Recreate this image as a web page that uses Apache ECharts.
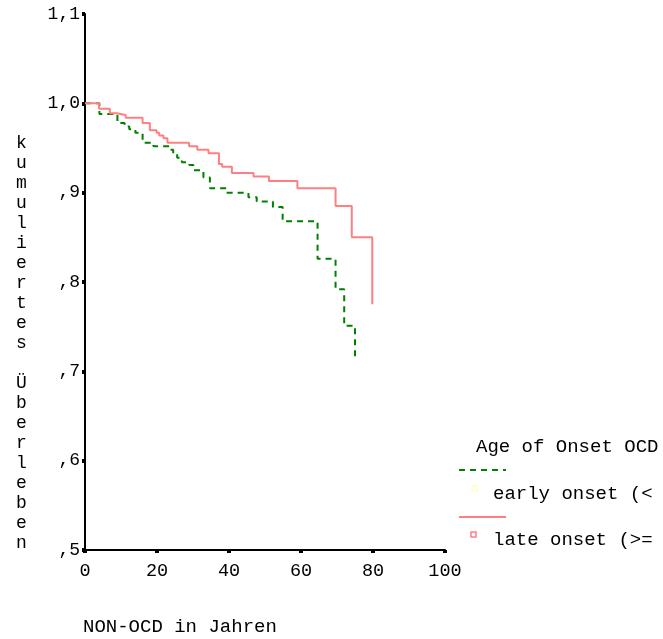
<!DOCTYPE html>
<html>
<head>
<meta charset="utf-8">
<script src="https://cdn.jsdelivr.net/npm/echarts@6/dist/echarts.min.js"></script>
<style>
html,body{margin:0;padding:0;background:#fff;}
#chart{width:663px;height:639px;}
</style>
</head>
<body>
<div id="chart"></div>
<script>
// Kaplan-Meier steps: time (years) and cumulative survival
const earlyTimes = [0, 4, 9, 11, 12.3, 14, 16, 19, 23.5, 24.5, 25.6, 26.9, 29, 30.1, 32.9, 34.7, 39.3, 45.4, 47.7, 52.2, 54.9, 64.6, 69.6, 72, 75];
const earlySurv  = [1.0, 0.988, 0.978, 0.974, 0.971, 0.967, 0.956, 0.952, 0.948, 0.944, 0.939, 0.934, 0.931, 0.925, 0.917, 0.905, 0.900, 0.895, 0.890, 0.884, 0.868, 0.826, 0.792, 0.751, 0.713];
const lateTimes = [0, 3.9, 6.9, 8.8, 11.3, 16, 18, 19.9, 20.6, 21.8, 22.9, 28.9, 31.2, 34.3, 37.2, 38.1, 40.8, 46.8, 51.1, 59, 69.6, 74.1, 79.8];
const lateSurv  = [1.0, 0.994, 0.989, 0.987, 0.984, 0.978, 0.970, 0.967, 0.964, 0.961, 0.956, 0.952, 0.948, 0.944, 0.932, 0.929, 0.922, 0.918, 0.913, 0.905, 0.885, 0.850, 0.775];
const yTickLabels = ['1,1', '1,0', ',9', ',8', ',7', ',6', ',5'];
const xTickLabels = ['0', '20', '40', '60', '80', '100'];
const yTitle = 'kumuliertes Überleben';
const xTitle = 'NON-OCD in Jahren';
const legendTitle = 'Age of Onset OCD';
const legendNames = ['early onset (<', 'late onset (>='];

const FONT = "'Liberation Mono', 'DejaVu Sans Mono', monospace";
const chart = echarts.init(document.getElementById('chart'), null, {renderer: 'canvas'});

function yLabel(v) {
  const r = Math.round(v * 10) / 10;
  const idx = Math.round((1.1 - r) * 10);
  return yTickLabels[idx] !== undefined ? yTickLabels[idx] : '';
}
function xLabel(v) {
  const idx = Math.round(v / 20);
  return xTickLabels[idx] !== undefined ? xTickLabels[idx] : '';
}

const option = {
  animation: false,
  backgroundColor: '#fff',
  grid: {left: 85, top: 14, right: 218, bottom: 89, containLabel: false},
  xAxis: {
    type: 'value', min: 0, max: 100, interval: 20,
    axisLine: {show: true, onZero: false, lineStyle: {color: '#000', width: 2}},
    axisTick: {show: true, length: 3, lineStyle: {color: '#000', width: 4}},
    axisLabel: {formatter: xLabel, color: '#000', fontFamily: FONT, fontSize: 18.5, margin: 12},
    splitLine: {show: false}
  },
  yAxis: {
    type: 'value', min: 0.5, max: 1.1, interval: 0.1,
    axisLine: {show: true, onZero: false, lineStyle: {color: '#000', width: 2}},
    axisTick: {show: true, length: 3, lineStyle: {color: '#000', width: 4}},
    axisLabel: {formatter: yLabel, color: '#000', fontFamily: FONT, fontSize: 18, margin: 5},
    splitLine: {show: false}
  },
  series: [
    {
      name: legendNames[0], type: 'line', step: 'end', showSymbol: false,
      data: earlyTimes.map((t, i) => [t, earlySurv[i]]),
      lineStyle: {color: '#008000', width: 2, type: [6, 5]},
      z: 2
    },
    {
      name: legendNames[1], type: 'line', step: 'end', showSymbol: false,
      data: lateTimes.map((t, i) => [t, lateSurv[i]]),
      lineStyle: {color: '#ff8080', width: 2},
      z: 3
    }
  ],
  graphic: [
    {type: 'text', left: 16, top: 133, style: {text: yTitle.split('').join('\n'), font: '18px ' + FONT, fill: '#000', lineHeight: 20}},
    {type: 'text', left: 83, top: 617, style: {text: xTitle, font: '19px ' + FONT, fill: '#000'}},
    {type: 'text', left: 476, top: 437, style: {text: legendTitle, font: '19px ' + FONT, fill: '#000'}},
    {type: 'line', shape: {x1: 459, y1: 470, x2: 506, y2: 470}, style: {stroke: '#008000', lineWidth: 2, lineDash: [6, 5]}},
    {type: 'rect', shape: {x: 472, y: 486, width: 5, height: 5}, style: {fill: '#fff', stroke: '#ffffc0', lineWidth: 1.5}},
    {type: 'text', left: 493, top: 484, style: {text: legendNames[0], font: '19px ' + FONT, fill: '#000'}},
    {type: 'line', shape: {x1: 459, y1: 517, x2: 506, y2: 517}, style: {stroke: '#ff8080', lineWidth: 2}},
    {type: 'rect', shape: {x: 471, y: 532, width: 5, height: 5}, style: {fill: '#fff', stroke: '#ff8080', lineWidth: 1.5}},
    {type: 'text', left: 493, top: 530, style: {text: legendNames[1], font: '19px ' + FONT, fill: '#000'}}
  ]
};
chart.setOption(option);
</script>
</body>
</html>
